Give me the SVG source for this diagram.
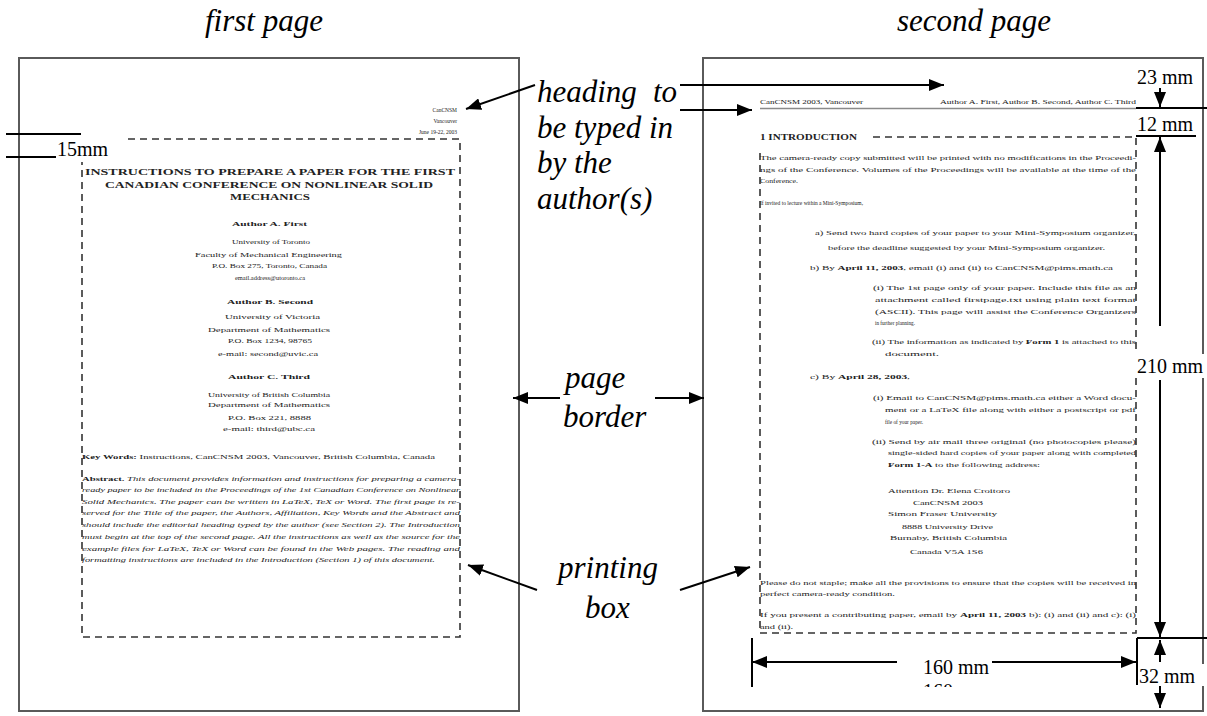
<svg xmlns="http://www.w3.org/2000/svg" width="1207" height="716" viewBox="0 0 1207 716">
<style>
.page{fill:#fff;stroke:#5a5a5a;stroke-width:2}
.dash{fill:none;stroke:#333;stroke-width:1.6;stroke-dasharray:7 5}
.lbl{font-family:"Liberation Serif",serif;font-style:italic;font-size:31px;fill:#000}
.dim{font-family:"Liberation Serif",serif;font-size:20px;fill:#000}
.t{font-family:"Liberation Serif",serif;font-size:7px;fill:#222}
.ts{font-family:"Liberation Serif",serif;font-size:5.5px;fill:#222}
.b{font-weight:bold}
.i{font-style:italic}
.ln{stroke:#000;stroke-width:2;fill:none}
.arr{stroke:#000;stroke-width:2;fill:none;marker-end:url(#ah)}
</style>
<defs>
<marker id="ah" markerUnits="userSpaceOnUse" markerWidth="16" markerHeight="12" refX="15" refY="6" orient="auto"><path d="M0,0 L15,6 L0,12 z" fill="#000"/></marker>
<clipPath id="clip160"><rect x="900" y="676" width="100" height="11"/></clipPath>
</defs>
<rect width="1207" height="716" fill="#fff"/>

<text class="lbl" x="264" y="31" text-anchor="middle">first page</text>
<text class="lbl" x="974" y="31" text-anchor="middle">second page</text>

<g id="page1">
<rect class="page" x="19" y="58" width="500" height="653"/>
<path class="dash" d="M128,139 H460 V637 H82 V162"/>
<text class="ts" x="457" y="112" text-anchor="end">CanCNSM</text>
<text class="ts" x="457" y="123" text-anchor="end">Vancouver</text>
<text class="ts" x="457" y="134" text-anchor="end">June 19-22, 2003</text>
<text class="t b" style="font-size:8.5px" x="85" y="175" textLength="370" lengthAdjust="spacingAndGlyphs">INSTRUCTIONS TO PREPARE A PAPER FOR THE FIRST</text>
<text class="t b" style="font-size:8.5px" x="105" y="188" textLength="328" lengthAdjust="spacingAndGlyphs">CANADIAN CONFERENCE ON NONLINEAR SOLID</text>
<text class="t b" style="font-size:8.5px" x="230" y="200" textLength="80" lengthAdjust="spacingAndGlyphs">MECHANICS</text>
<text class="t b" x="232" y="226" textLength="75" lengthAdjust="spacingAndGlyphs">Author A. First</text>
<text class="t" x="232" y="244" textLength="78" lengthAdjust="spacingAndGlyphs">University of Toronto</text>
<text class="t" x="195" y="257" textLength="147" lengthAdjust="spacingAndGlyphs">Faculty of Mechanical Engineering</text>
<text class="t" x="212" y="268" textLength="115" lengthAdjust="spacingAndGlyphs">P.O. Box 275,   Toronto, Canada</text>
<text class="t" x="235" y="280" textLength="70" lengthAdjust="spacingAndGlyphs">email.address@utoronto.ca</text>
<text class="t b" x="227" y="304" textLength="86" lengthAdjust="spacingAndGlyphs">Author B. Second</text>
<text class="t" x="225" y="319" textLength="95" lengthAdjust="spacingAndGlyphs">University of Victoria</text>
<text class="t" x="208" y="332" textLength="122" lengthAdjust="spacingAndGlyphs">Department of Mathematics</text>
<text class="t" x="228" y="343" textLength="84" lengthAdjust="spacingAndGlyphs">P.O. Box 1234, 98765</text>
<text class="t" x="218" y="356" textLength="100" lengthAdjust="spacingAndGlyphs">e-mail: second@uvic.ca</text>
<text class="t b" x="228" y="379" textLength="82" lengthAdjust="spacingAndGlyphs">Author C. Third</text>
<text class="t" x="208" y="397" textLength="122" lengthAdjust="spacingAndGlyphs">University of British Columbia</text>
<text class="t" x="208" y="407" textLength="122" lengthAdjust="spacingAndGlyphs">Department of Mathematics</text>
<text class="t" x="228" y="420" textLength="83" lengthAdjust="spacingAndGlyphs">P.O. Box 221, 8888</text>
<text class="t" x="223" y="431" textLength="92" lengthAdjust="spacingAndGlyphs">e-mail: third@ubc.ca</text>
<text class="t" x="82" y="459" textLength="353" lengthAdjust="spacingAndGlyphs"><tspan class="b">Key Words:</tspan> Instructions, CanCNSM 2003, Vancouver, British Columbia, Canada</text>
<text class="t" x="82" y="481" textLength="378" lengthAdjust="spacingAndGlyphs"><tspan class="b">Abstract.</tspan> <tspan class="i">This document provides information and instructions for preparing a camera-</tspan></text>
<text class="t i" x="82" y="492" textLength="378" lengthAdjust="spacingAndGlyphs">ready paper to be included in the Proceedings of the 1st Canadian Conference on Nonlinear</text>
<text class="t i" x="82" y="504" textLength="378" lengthAdjust="spacingAndGlyphs">Solid Mechanics. The paper can be written in LaTeX, TeX or Word. The first page is re-</text>
<text class="t i" x="82" y="515" textLength="378" lengthAdjust="spacingAndGlyphs">served for the Title of the paper, the Authors, Affiliation, Key Words and the Abstract and</text>
<text class="t i" x="82" y="527" textLength="378" lengthAdjust="spacingAndGlyphs">should include the editorial heading typed by the author (see Section 2). The Introduction</text>
<text class="t i" x="82" y="539" textLength="378" lengthAdjust="spacingAndGlyphs">must begin at the top of the second page. All the instructions as well as the source for the</text>
<text class="t i" x="82" y="551" textLength="378" lengthAdjust="spacingAndGlyphs">example files for LaTeX, TeX or Word can be found in the Web pages. The reading and</text>
<text class="t i" x="82" y="562" textLength="353" lengthAdjust="spacingAndGlyphs">formatting instructions are included in the Introduction (Section 1) of this document.</text>
</g>

<g id="page2">
<rect class="page" x="703" y="58" width="500" height="653"/>
<path class="dash" d="M873,137 H1136 V633 H760 V150"/>
<text class="ts" style="font-size:6px" x="760" y="104" textLength="103" lengthAdjust="spacingAndGlyphs">CanCNSM 2003, Vancouver</text>
<text class="ts" style="font-size:6px" x="940" y="104" textLength="196" lengthAdjust="spacingAndGlyphs">Author A. First, Author B. Second, Author C. Third</text>
<line x1="760" y1="108.5" x2="1136" y2="108.5" stroke="#8a8a8a" stroke-width="1.4"/>
<text class="t b" style="font-size:7.5px" x="760" y="140" textLength="97" lengthAdjust="spacingAndGlyphs">1   INTRODUCTION</text>
<text class="t" x="760" y="160" textLength="376" lengthAdjust="spacingAndGlyphs">The camera-ready copy submitted will be printed with no modifications in the Proceedi-</text>
<text class="t" x="760" y="172" textLength="376" lengthAdjust="spacingAndGlyphs">ngs of the Conference. Volumes of the Proceedings will be available at the time of the</text>
<text class="t" x="760" y="183" textLength="38" lengthAdjust="spacingAndGlyphs">Conference.</text>
<text class="t" x="760" y="205" textLength="103" lengthAdjust="spacingAndGlyphs">If invited to lecture within a Mini-Symposium,</text>
<text class="t" x="815" y="235" textLength="321" lengthAdjust="spacingAndGlyphs">a) Send two hard copies of your paper to your Mini-Symposium organizer,</text>
<text class="t" x="828" y="250" textLength="277" lengthAdjust="spacingAndGlyphs">before the deadline suggested by your Mini-Symposium organizer.</text>
<text class="t" x="810" y="270" textLength="303" lengthAdjust="spacingAndGlyphs">b) By <tspan class="b">April 11, 2003</tspan>, email (i) and (ii) to CanCNSM@pims.math.ca</text>
<text class="t" x="873" y="290" textLength="263" lengthAdjust="spacingAndGlyphs">(i) The 1st page only of your paper. Include this file as an</text>
<text class="t" x="875" y="302" textLength="261" lengthAdjust="spacingAndGlyphs">attachment called firstpage.txt using plain text format</text>
<text class="t" x="875" y="314" textLength="261" lengthAdjust="spacingAndGlyphs">(ASCII). This page will assist the Conference Organizers</text>
<text class="t" x="875" y="325" textLength="40" lengthAdjust="spacingAndGlyphs">in further planning.</text>
<text class="t" x="872" y="344" textLength="264" lengthAdjust="spacingAndGlyphs">(ii) The information as indicated by <tspan class="b">Form 1</tspan> is attached to this</text>
<text class="t" x="885" y="356" textLength="54" lengthAdjust="spacingAndGlyphs">document.</text>
<text class="t" x="810" y="379" textLength="100" lengthAdjust="spacingAndGlyphs">c) By <tspan class="b">April 28, 2003</tspan>,</text>
<text class="t" x="873" y="400" textLength="263" lengthAdjust="spacingAndGlyphs">(i) Email to CanCNSM@pims.math.ca either a Word docu-</text>
<text class="t" x="885" y="412" textLength="251" lengthAdjust="spacingAndGlyphs">ment or a LaTeX file along with either a postscript or pdf</text>
<text class="t" x="885" y="424" textLength="38" lengthAdjust="spacingAndGlyphs">file of your paper.</text>
<text class="t" x="872" y="444" textLength="264" lengthAdjust="spacingAndGlyphs">(ii) Send by air mail three original (no photocopies please)</text>
<text class="t" x="888" y="455" textLength="248" lengthAdjust="spacingAndGlyphs">single-sided hard copies of your paper along with completed</text>
<text class="t" x="888" y="467" textLength="152" lengthAdjust="spacingAndGlyphs"><tspan class="b">Form 1-A</tspan> to the following address:</text>
<text class="t" x="888" y="493" textLength="122" lengthAdjust="spacingAndGlyphs">Attention Dr. Elena Croitoro</text>
<text class="t" x="913" y="505" textLength="70" lengthAdjust="spacingAndGlyphs">CanCNSM 2003</text>
<text class="t" x="888" y="516" textLength="109" lengthAdjust="spacingAndGlyphs">Simon Fraser University</text>
<text class="t" x="902" y="529" textLength="91" lengthAdjust="spacingAndGlyphs">8888 University Drive</text>
<text class="t" x="890" y="540" textLength="117" lengthAdjust="spacingAndGlyphs">Burnaby, British Columbia</text>
<text class="t" x="910" y="554" textLength="73" lengthAdjust="spacingAndGlyphs">Canada V5A 1S6</text>
<text class="t" x="760" y="585" textLength="376" lengthAdjust="spacingAndGlyphs">Please do not staple; make all the provisions to ensure that the copies will be received in</text>
<text class="t" x="760" y="596" textLength="135" lengthAdjust="spacingAndGlyphs">perfect camera-ready condition.</text>
<text class="t" x="760" y="617" textLength="376" lengthAdjust="spacingAndGlyphs">If you present a contributing paper, email by <tspan class="b">April 11, 2003</tspan> b): (i) and (ii) and c): (i)</text>
<text class="t" x="760" y="629" textLength="33" lengthAdjust="spacingAndGlyphs">and (ii).</text>
</g>

<g id="label-heading">
<text class="lbl" x="537" y="102">heading<tspan x="653">to</tspan></text>
<text class="lbl" x="537" y="137.5">be typed in</text>
<text class="lbl" x="537" y="173">by the</text>
<text class="lbl" x="537" y="208.5">author(s)</text>
</g>
<g id="label-page-border">
<text class="lbl" x="565" y="388">page</text>
<text class="lbl" x="563" y="427">border</text>
</g>
<g id="label-printing-box">
<text class="lbl" x="558" y="578">printing</text>
<text class="lbl" x="585" y="618">box</text>
</g>

<g id="dim-15mm">
<line class="ln" x1="6" y1="134" x2="81" y2="134" stroke-width="1.5"/>
<line class="ln" x1="6" y1="157" x2="56" y2="157" stroke-width="1.5"/>
<text class="dim" x="57" y="156">15mm</text>
</g>

<g id="dim-23mm">
<text class="dim" x="1137" y="84">23 mm</text>
</g>
<g id="dim-12mm">
<text class="dim" x="1137" y="131">12 mm</text>
</g>
<g id="dim-210mm">
<rect x="1135" y="354" width="72" height="24" fill="#fff"/>
<text class="dim" x="1137" y="373">210 mm</text>
</g>
<g id="dim-160mm">
<text class="dim" x="923" y="674">160 mm</text>
<text class="dim" x="923" y="698" clip-path="url(#clip160)">160</text>
</g>
<g id="dim-32mm">
<rect x="1138" y="664" width="69" height="22" fill="#fff"/>
<text class="dim" x="1139" y="683">32 mm</text>
</g>

<g id="connectors">
<line class="arr" x1="535" y1="85" x2="466" y2="109"/>
<line class="arr" x1="680" y1="85" x2="944" y2="85"/>
<line class="arr" x1="680" y1="110" x2="752" y2="110"/>
<line class="arr" x1="560" y1="398" x2="513" y2="398"/>
<line class="arr" x1="655" y1="398" x2="704" y2="398"/>
<line class="arr" x1="537" y1="590" x2="468" y2="565"/>
<line class="arr" x1="680" y1="590" x2="750" y2="567"/>
<line class="arr" x1="1160" y1="88" x2="1160" y2="107"/>
<line class="ln" x1="1136" y1="108" x2="1207" y2="108" stroke-width="1.5"/>
<line class="ln" x1="1136" y1="136" x2="1196" y2="136" stroke-width="1.5"/>
<line class="arr" x1="1160" y1="326" x2="1160" y2="137"/>
<line class="arr" x1="1160" y1="380" x2="1160" y2="637"/>
<line class="ln" x1="1137" y1="638" x2="1207" y2="638"/>
<line class="ln" x1="1137" y1="638" x2="1137" y2="685" stroke-width="1.5"/>
<line class="ln" x1="752" y1="638" x2="752" y2="687"/>
<line class="arr" x1="897" y1="662" x2="752" y2="662"/>
<line class="arr" x1="992" y1="662" x2="1136" y2="662"/>
<line class="arr" x1="1160" y1="662" x2="1160" y2="640"/>
<line class="arr" x1="1160" y1="686" x2="1160" y2="708"/>
</g>
</svg>
